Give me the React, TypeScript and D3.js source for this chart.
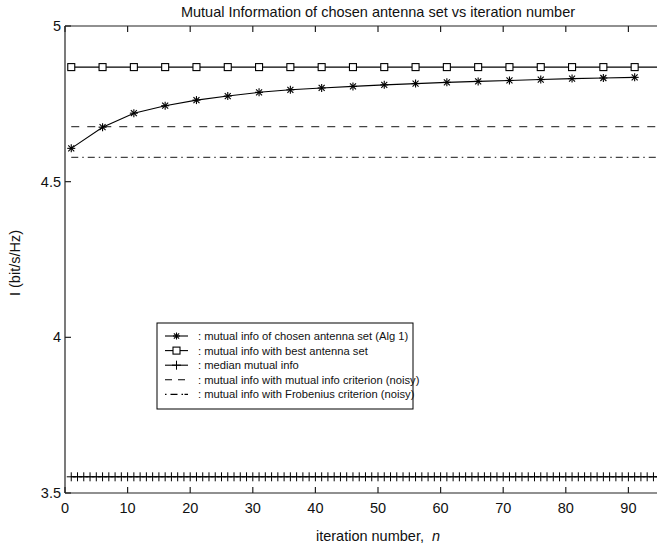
import React from "react";
import * as d3 from "d3";

// iteration indices where markers are drawn
const chosenIters = [1, 6, 11, 16, 21, 26, 31, 36, 41, 46, 51, 56, 61, 66, 71, 76, 81, 86, 91];
const chosenMI = [4.607, 4.675, 4.72, 4.744, 4.762, 4.775, 4.787, 4.795, 4.801, 4.806, 4.811, 4.815, 4.819, 4.822, 4.825, 4.828, 4.831, 4.833, 4.835];
const bestMI = 4.868;
const medianMI = 3.552;
const mutualCritMI = 4.677;
const frobCritMI = 4.578;
const medianIters = d3.range(1, 101);
const lineEndIter = 100;

const xTicks = [0, 10, 20, 30, 40, 50, 60, 70, 80, 90];
const yTicks = [3.5, 4, 4.5, 5];

const legendLabels = [
  ": mutual info of chosen antenna set (Alg 1)",
  ": mutual info with best antenna set",
  ": median mutual info",
  ": mutual info with mutual info criterion (noisy)",
  ": mutual info with Frobenius criterion (noisy)",
];

const W = 657;
const H = 547;
const left = 65;
const top = 26;
const bottom = 493;

export default function App() {
  // x axis runs to 100, the right part is cropped by the picture edge
  const x = d3.scaleLinear().domain([0, 100]).range([left, left + 626]);
  const y = d3.scaleLinear().domain([3.5, 5]).range([bottom, top]);
  const right = x(100);
  const midX = (left + right) / 2;

  const line = d3
    .line<[number, number]>()
    .x((d) => x(d[0]))
    .y((d) => y(d[1]));

  const chosenPts: [number, number][] = chosenIters.map((it, i) => [it, chosenMI[i]]);
  const font = "'Liberation Sans', Arial, sans-serif";
  const axisColor = "#222";

  const star = (cx: number, cy: number, r = 4, key?: string) => (
    <g key={key} stroke="#000" strokeWidth={1.1}>
      <line x1={cx - r} x2={cx + r} y1={cy} y2={cy} />
      <line x1={cx} x2={cx} y1={cy - r} y2={cy + r} />
      <line x1={cx - r * 0.75} x2={cx + r * 0.75} y1={cy - r * 0.75} y2={cy + r * 0.75} />
      <line x1={cx - r * 0.75} x2={cx + r * 0.75} y1={cy + r * 0.75} y2={cy - r * 0.75} />
    </g>
  );
  const square = (cx: number, cy: number, key?: string) => (
    <rect key={key} x={cx - 3.5} y={cy - 3.5} width={7} height={7} fill="#fff" stroke="#000" strokeWidth={1.1} />
  );
  const plus = (cx: number, cy: number, key?: string, r = 4.5) => (
    <g key={key} stroke="#000" strokeWidth={1}>
      <line x1={cx - r} x2={cx + r} y1={cy} y2={cy} />
      <line x1={cx} x2={cx} y1={cy - r} y2={cy + r} />
    </g>
  );

  // legend geometry
  const lgX = 157;
  const lgY = 323;
  const lgW = 256;
  const lgH = 86;
  const rowH = 14.6;
  const rowY0 = lgY + 13;
  const sx0 = lgX + 8;
  const sx1 = lgX + 31;
  const smid = (sx0 + sx1) / 2;

  return (
    <svg width={W} height={H} style={{ position: "absolute", left: 0, top: 0, background: "#fff" }} fontFamily={font}>
      <rect x={0} y={0} width={W} height={H} fill="#fff" />
      <defs>
        <clipPath id="plot">
          <rect x={left} y={top} width={right - left} height={bottom - top} />
        </clipPath>
      </defs>

      {/* title */}
      <text x={midX} y={17} textAnchor="middle" fontSize={14.5} fill="#111">
        Mutual Information of chosen antenna set vs iteration number
      </text>

      {/* reference lines */}
      <g clipPath="url(#plot)">
        <path d={line([[1, mutualCritMI], [lineEndIter, mutualCritMI]]) ?? ""} stroke="#444" strokeWidth={1.2} strokeDasharray="8,8" fill="none" />
        <path d={line([[1, frobCritMI], [lineEndIter, frobCritMI]]) ?? ""} stroke="#444" strokeWidth={1.2} strokeDasharray="7,4,1.5,4" fill="none" />
        <path d={line([[1, bestMI], [lineEndIter, bestMI]]) ?? ""} stroke="#000" strokeWidth={1.1} fill="none" />
        <path d={line([[1, medianMI], [lineEndIter, medianMI]]) ?? ""} stroke="#000" strokeWidth={1.1} fill="none" />
        <path d={line(chosenPts) ?? ""} stroke="#000" strokeWidth={1.1} fill="none" />
        {medianIters.map((it) => plus(x(it), y(medianMI), `m${it}`))}
        {chosenIters.map((it) => square(x(it), y(bestMI), `s${it}`))}
        {chosenPts.map((p) => star(x(p[0]), y(p[1]), 4, `c${p[0]}`))}
      </g>

      {/* axes box */}
      <g stroke={axisColor} strokeWidth={1.2} fill="none">
        <line x1={left} x2={right} y1={top} y2={top} />
        <line x1={left} x2={right} y1={bottom} y2={bottom} />
        <line x1={left} x2={left} y1={top} y2={bottom} />
        {xTicks.map((t) => (
          <g key={`xt${t}`}>
            <line x1={x(t)} x2={x(t)} y1={bottom} y2={bottom - 6} />
            <line x1={x(t)} x2={x(t)} y1={top} y2={top + 6} />
          </g>
        ))}
        {yTicks.map((t) => (
          <g key={`yt${t}`}>
            <line x1={left} x2={left + 6} y1={y(t)} y2={y(t)} />
          </g>
        ))}
      </g>

      {/* tick labels */}
      <g fontSize={14.5} fill="#111">
        {xTicks.map((t) => (
          <text key={`xl${t}`} x={x(t)} y={bottom + 20} textAnchor="middle">
            {t}
          </text>
        ))}
        {yTicks.map((t) => (
          <text key={`yl${t}`} x={left - 4} y={y(t) + 5} textAnchor="end">
            {d3.format("")(t)}
          </text>
        ))}
      </g>

      {/* axis labels */}
      <text x={midX} y={541} textAnchor="middle" fontSize={14.5} fill="#111">
        iteration number,{"  "}
        <tspan fontStyle="italic" dx={4}>n</tspan>
      </text>
      <text transform={`translate(20,${263}) rotate(-90)`} textAnchor="middle" fontSize={14.5} fill="#111">
        I (bit/s/Hz)
      </text>

      {/* legend */}
      <rect x={lgX} y={lgY} width={lgW} height={lgH} fill="#fff" stroke="#000" strokeWidth={1} />
      {legendLabels.map((lab, i) => {
        const ry = rowY0 + i * rowH;
        let sample: React.ReactNode = null;
        if (i === 0) {
          sample = (
            <g>
              <line x1={sx0} x2={sx1} y1={ry} y2={ry} stroke="#000" strokeWidth={1.1} />
              {star(smid, ry, 3.5)}
            </g>
          );
        } else if (i === 1) {
          sample = (
            <g>
              <line x1={sx0} x2={sx1} y1={ry} y2={ry} stroke="#000" strokeWidth={1.1} />
              {square(smid, ry)}
            </g>
          );
        } else if (i === 2) {
          sample = (
            <g>
              <line x1={sx0} x2={sx1} y1={ry} y2={ry} stroke="#000" strokeWidth={1.1} />
              {plus(smid, ry, undefined, 4.5)}
            </g>
          );
        } else if (i === 3) {
          sample = <line x1={sx0} x2={sx1} y1={ry} y2={ry} stroke="#000" strokeWidth={1.1} strokeDasharray="7,6" />;
        } else {
          sample = <line x1={sx0} x2={sx1} y1={ry} y2={ry} stroke="#000" strokeWidth={1.1} strokeDasharray="1.5,4,7,4,1.5" />;
        }
        return (
          <g key={`lg${i}`}>
            {sample}
            <text x={lgX + 41} y={ry + 4} fontSize={11.2} fill="#111">
              {lab}
            </text>
          </g>
        );
      })}
    </svg>
  );
}
